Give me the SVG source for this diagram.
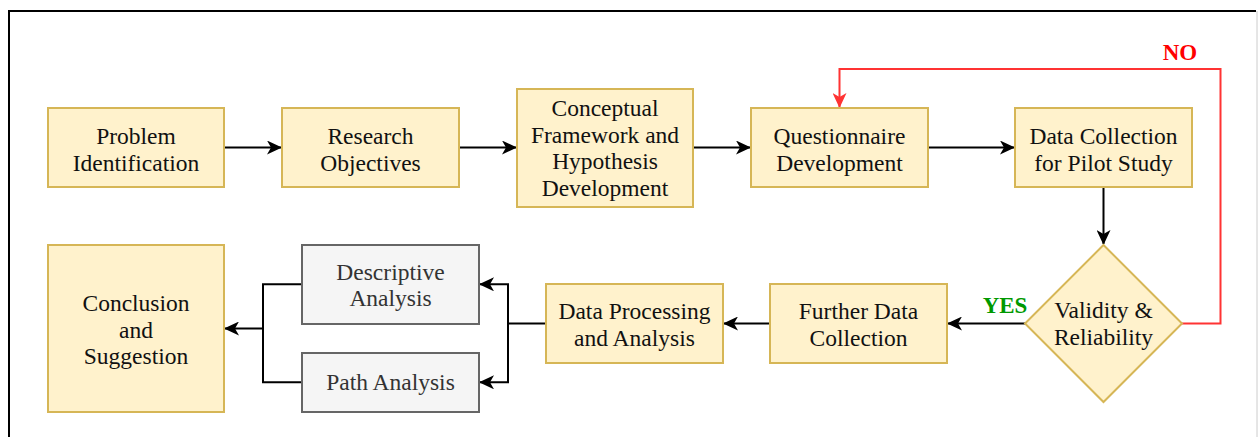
<svg xmlns="http://www.w3.org/2000/svg" width="1259" height="437" viewBox="0 0 1259 437">
  <style>
    .y { fill: #fff2cc; stroke: #d6b656; stroke-width: 2; }
    .g { fill: #f5f5f5; stroke: #666666; stroke-width: 2; }
    .t { font-family: "Liberation Serif", "Times New Roman", serif; font-size: 23.5px; fill: #111111; text-anchor: middle; }
    .tg { fill: #333333; }
    .c { fill: none; stroke: #000000; stroke-width: 2; }
    .r { fill: none; stroke: #ff3333; stroke-width: 2; }
    .lbl { font-family: "Liberation Serif", "Times New Roman", serif; font-size: 23px; font-weight: bold; text-anchor: middle; }
  </style>
  <defs>
    <marker id="ah" markerWidth="15" markerHeight="14" refX="14" refY="7" orient="auto" markerUnits="userSpaceOnUse">
      <path d="M0,0 L15,7 L0,14 L4,7 Z" fill="#000000"/>
    </marker>
    <marker id="ahr" markerWidth="15" markerHeight="14" refX="14" refY="7" orient="auto" markerUnits="userSpaceOnUse">
      <path d="M0,0 L15,7 L0,14 L4,7 Z" fill="#ff3333"/>
    </marker>
  </defs>

  <rect x="0" y="0" width="1259" height="437" fill="#ffffff"/>
  <!-- page frame -->
  <path d="M9,437 V11 H1256" fill="none" stroke="#000000" stroke-width="2"/>
  <line x1="1257" y1="11" x2="1257" y2="437" stroke="#cccccc" stroke-width="1"/>

  <g id="connectors">
    <line class="c" x1="224" y1="147.5" x2="281" y2="147.5" marker-end="url(#ah)"/>
    <line class="c" x1="459" y1="147.5" x2="516" y2="147.5" marker-end="url(#ah)"/>
    <line class="c" x1="693" y1="147.5" x2="750" y2="147.5" marker-end="url(#ah)"/>
    <line class="c" x1="928" y1="147.5" x2="1014" y2="147.5" marker-end="url(#ah)"/>
    <line class="c" x1="1103.5" y1="187" x2="1103.5" y2="244" marker-end="url(#ah)"/>
    <line class="c" x1="1025" y1="323.5" x2="948" y2="323.5" marker-end="url(#ah)"/>
    <line class="c" x1="770" y1="323.5" x2="724" y2="323.5" marker-end="url(#ah)"/>
    <path class="c" d="M546,323.5 H508 V284.3 H480" marker-end="url(#ah)"/>
    <path class="c" d="M508,323.5 V382.3 H480" marker-end="url(#ah)"/>
    <path class="c" d="M302,284.3 H263 V382.3 H302"/>
    <line class="c" x1="263" y1="328.5" x2="225" y2="328.5" marker-end="url(#ah)"/>
    <path class="r" d="M1182,323.5 H1220.5 V69 H839.5 V107" marker-end="url(#ahr)"/>
    <text class="lbl" x="1180" y="60" fill="#ff0000">NO</text>
    <text class="lbl" x="1005" y="313" fill="#009900">YES</text>
  </g>

  <g id="problem-identification">
    <rect class="y" x="48" y="108" width="176" height="79"/>
    <text class="t" x="136" y="144">Problem</text>
    <text class="t" x="136" y="170.7">Identification</text>
  </g>

  <g id="research-objectives">
    <rect class="y" x="282" y="108" width="177" height="79"/>
    <text class="t" x="370.5" y="144">Research</text>
    <text class="t" x="370.5" y="170.7">Objectives</text>
  </g>

  <g id="conceptual-framework">
    <rect class="y" x="517" y="89" width="176" height="118"/>
    <text class="t" x="605" y="116">Conceptual</text>
    <text class="t" x="605" y="142.7">Framework and</text>
    <text class="t" x="605" y="169.4">Hypothesis</text>
    <text class="t" x="605" y="196.1">Development</text>
  </g>

  <g id="questionnaire-development">
    <rect class="y" x="751" y="108" width="177" height="79"/>
    <text class="t" x="839.5" y="144">Questionnaire</text>
    <text class="t" x="839.5" y="170.7">Development</text>
  </g>

  <g id="pilot-data-collection">
    <rect class="y" x="1015" y="108" width="177" height="79"/>
    <text class="t" x="1103.5" y="144">Data Collection</text>
    <text class="t" x="1103.5" y="170.7">for Pilot Study</text>
  </g>

  <g id="validity-reliability">
    <polygon class="y" points="1103.5,245 1182,323.5 1103.5,402 1025,323.5"/>
    <text class="t" x="1103.5" y="318">Validity &amp;</text>
    <text class="t" x="1103.5" y="344.7">Reliability</text>
  </g>

  <g id="further-data-collection">
    <rect class="y" x="770" y="284" width="177" height="79"/>
    <text class="t" x="858.5" y="319">Further Data</text>
    <text class="t" x="858.5" y="345.7">Collection</text>
  </g>

  <g id="data-processing">
    <rect class="y" x="546" y="284" width="177" height="79"/>
    <text class="t" x="634.5" y="319">Data Processing</text>
    <text class="t" x="634.5" y="345.7">and Analysis</text>
  </g>

  <g id="descriptive-analysis">
    <rect class="g" x="302" y="245" width="177" height="79"/>
    <text class="t tg" x="390.5" y="279.5">Descriptive</text>
    <text class="t tg" x="390.5" y="306.2">Analysis</text>
  </g>

  <g id="path-analysis">
    <rect class="g" x="302" y="353" width="177" height="59"/>
    <text class="t tg" x="390.5" y="390">Path Analysis</text>
  </g>

  <g id="conclusion">
    <rect class="y" x="48" y="245" width="176" height="167"/>
    <text class="t" x="136" y="311">Conclusion</text>
    <text class="t" x="136" y="337.7">and</text>
    <text class="t" x="136" y="364.4">Suggestion</text>
  </g>
</svg>
